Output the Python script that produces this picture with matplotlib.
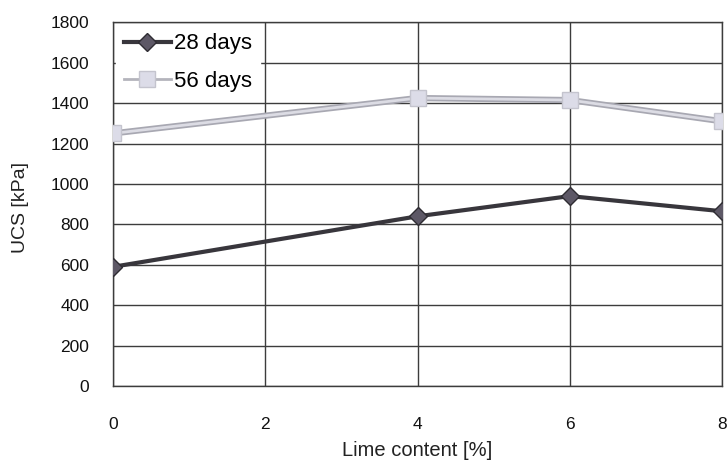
import matplotlib
matplotlib.use('Agg')
import matplotlib.pyplot as plt

plt.rcParams['font.family'] = 'Liberation Sans'

lime = [0, 4, 6, 8]
ucs_28 = [590, 840, 940, 865]
ucs_56 = [1250, 1425, 1415, 1310]
xticks = [0, 2, 4, 6, 8]
yticks = [0, 200, 400, 600, 800, 1000, 1200, 1400, 1600, 1800]

fig = plt.figure(figsize=(7.28, 4.63), dpi=100)
ax = fig.add_axes([0.155, 0.166, 0.837, 0.786])

ax.plot(lime, ucs_28, color='#38363c', lw=3, marker='D', ms=9,
        mfc='#5d5866', mec='#2e2c32', mew=1, label='28 days', zorder=3)
# gray outline under the light 56-day line
ax.plot(lime, ucs_56, color='#a8a8b2', lw=4.5, zorder=2.9)
ax.plot(lime, ucs_56, color='#dcdce4', lw=2, marker='s', ms=12,
        mfc='#dcdce8', mec='#c4c4ce', mew=1, label='56 days', zorder=3)

ax.set_xlim(0, 8)
ax.set_ylim(0, 1800)
ax.set_xticks(xticks)
ax.set_yticks(yticks)
ax.grid(True, color='#3c3c3c', lw=1)
ax.set_axisbelow(True)
for s in ax.spines.values():
    s.set_color('#3c3c3c')
    s.set_linewidth(1)
ax.tick_params(length=0, labelsize=12.5, colors='#111111')
ax.tick_params(axis='x', pad=22)
ax.tick_params(axis='y', pad=17)

ax.set_xlabel('Lime content [%]', fontsize=14.5, color='#222222', labelpad=7)
ax.set_ylabel('UCS [kPa]', fontsize=14, color='#222222')
ax.yaxis.set_label_coords(-0.137, 0.49)

leg = ax.legend(loc='upper left', fontsize=16, frameon=True, fancybox=False,
                edgecolor='white', framealpha=1, borderaxespad=0.15,
                borderpad=0.35, handlelength=2.1, handletextpad=0.15,
                labelspacing=0.75)
leg.get_lines()[1].set_color('#b4b4bc')

plt.savefig('out.png', dpi=100, facecolor='white')
